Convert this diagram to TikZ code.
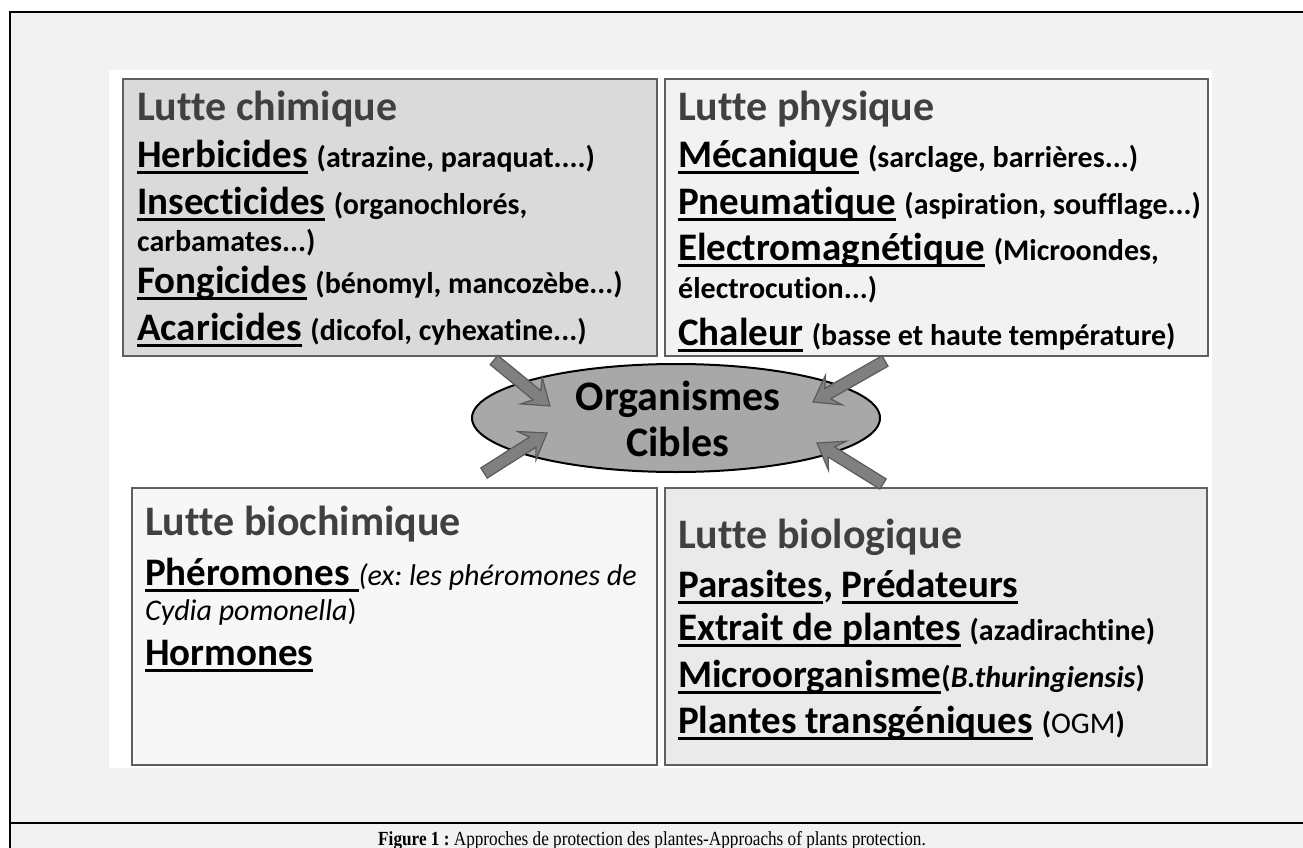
\documentclass[tikz,border=0pt]{standalone}
\usepackage{fontspec}
\setmainfont{Carlito}[Ligatures={NoCommon}]
\newfontfamily\capfont{Liberation Serif}
\usetikzlibrary{calc,shapes.geometric}
\definecolor{pagegrey}{HTML}{F2F2F2}
\definecolor{titgrey}{HTML}{404040}
\definecolor{boxline}{HTML}{5F5F5F}
\definecolor{fillA}{HTML}{DADADA}
\definecolor{fillB}{HTML}{F2F2F2}
\definecolor{fillC}{HTML}{F7F7F7}
\definecolor{fillD}{HTML}{EAEAEA}
\definecolor{ellfill}{HTML}{A8A8A8}
\definecolor{arrfill}{HTML}{808080}
\definecolor{arrline}{HTML}{5A5A5A}
\frenchspacing
\newlength\myulw
\newcommand\myul[1]{\settowidth{\myulw}{#1}\leavevmode\rlap{\rule[-7pt]{\myulw}{2.7pt}}#1}
\newcommand\smalltxt{\fontsize{30}{36}\selectfont}
\newcommand\blockarr[2]{%
  \coordinate (hb) at ($(#2)!24pt!(#1)$);
  \coordinate (hi) at ($(#2)!17pt!(#1)$);
  \draw[barrow] ($(#1)!6pt!90:(#2)$) -- ($(hi)!6pt!-90:(#1)$) -- ($(hb)!17pt!-90:(#1)$) -- (#2)
     -- ($(hb)!17pt!90:(#1)$) -- ($(hi)!6pt!90:(#1)$) -- ($(#1)!6pt!-90:(#2)$) -- cycle;}
\tikzset{
  box/.style={draw=boxline, line width=2.2pt, anchor=north west, inner sep=0, outer sep=0},
  tit/.style={anchor=base west, inner sep=0, text=titgrey, font=\fontsize{42}{50}\selectfont\bfseries},
  ln/.style={anchor=base west, inner sep=0, font=\fontsize{39}{47}\selectfont\bfseries},
  barrow/.style={fill=arrfill, draw=arrline, line width=1.2pt, line join=miter},
}
\begin{document}
\begin{tikzpicture}[x=1pt,y=-1pt]
\useasboundingbox (0,0) rectangle (1303,848);
\fill[white] (0,0) rectangle (1303,848);
\fill[pagegrey] (10,12) rectangle (1303,848);
\draw[line width=2.5pt] (10,848) -- (10,12) -- (1303,12);
\draw[line width=2.5pt] (10,823) -- (1303,823);
\fill[white] (109,70) rectangle (1212,768);

% boxes
\node[box, fill=fillA, minimum width=534pt, minimum height=277pt] (chim) at (123,79) {};
\node[box, fill=fillB, minimum width=543pt, minimum height=277pt] (phys) at (665,79) {};
\node[box, fill=fillC, minimum width=525pt, minimum height=277pt] (bioch) at (132,488) {};
\node[box, fill=fillD, minimum width=542pt, minimum height=277pt] (biol) at (665,488) {};

% chimique
\node[tit] (t1) at (137,121) {Lutte chimique};
\node[ln] (c1) at (137,167) {\myul{Herbicides} {\smalltxt(atrazine, paraquat....)}};
\node[ln] (c2) at (137,214) {\myul{Insecticides} {\smalltxt(organochlorés,}};
\node[ln] (c3) at (137,251) {\smalltxt carbamates...)};
\node[ln] (c4) at (137,293) {\myul{Fongicides} {\smalltxt(bénomyl, mancozèbe...)}};
\node[ln] (c5) at (137,340) {\myul{Acaricides} {\smalltxt(dicofol, cyhexatine...)}};

% physique
\node[tit] (t2) at (678,121) {Lutte physique};
\node[ln] (p1) at (678,167) {\myul{Mécanique} {\smalltxt(sarclage, barrières...)}};
\node[ln] (p2) at (678,214) {\myul{Pneumatique} {\smalltxt(aspiration, soufflage...)}};
\node[ln] (p3) at (678,260) {\myul{Electromagnétique} {\smalltxt(Microondes,}};
\node[ln] (p4) at (678,298) {\smalltxt électrocution...)};
\node[ln] (p5) at (678,345) {\myul{Chaleur} {\smalltxt(basse et haute température)}};

% biochimique
\node[tit] (t3) at (145,535) {Lutte biochimique};
\node[ln] (b1) at (145,585) {\myul{Phéromones\ }{\smalltxt\mdseries\itshape (ex: les phéromones de}};
\node[ln] (b2) at (145,620) {\smalltxt\mdseries\itshape Cydia pomonella\upshape)};
\node[ln] (b3) at (145,665) {\myul{Hormones}};

% biologique
\node[tit] (t4) at (678,548) {Lutte biologique};
\node[ln] (g1) at (678,597) {\myul{Parasites}, \myul{Prédateurs}};
\node[ln] (g2) at (678,640) {\myul{Extrait de plantes} {\smalltxt(azadirachtine)}};
\node[ln] (g3) at (678,687) {\myul{Microorganisme}{\smalltxt(\textit{B.thuringiensis})}};
\node[ln] (g4) at (678,733) {\myul{Plantes transgéniques} {\smalltxt(\mdseries OGM\bfseries)}};

% ellipse
\node[ellipse, draw=black, line width=2pt, fill=ellfill, minimum width=408pt, minimum height=108pt, inner sep=0] (org) at (676,418) {};
\node[anchor=base, inner sep=0, font=\fontsize{42}{50}\selectfont\bfseries] (o1) at (678,410) {Organismes};
\node[anchor=base, inner sep=0, font=\fontsize{42}{50}\selectfont\bfseries] (o2) at (678,456) {Cibles};

% arrows
\coordinate (a1s) at (494,360);
\coordinate (a1e) at (550,406);
\coordinate (a2s) at (484,473);
\coordinate (a2e) at (547,433);
\coordinate (a3s) at (885,361);
\coordinate (a3e) at (813,402);
\coordinate (a4s) at (883,484);
\coordinate (a4e) at (817,443);
\blockarr{a1s}{a1e}
\blockarr{a2s}{a2e}
\blockarr{a3s}{a3e}
\blockarr{a4s}{a4e}

% caption
\node[anchor=base, inner sep=0, font=\capfont\fontsize{20}{24}\selectfont] (cap) at (652,845) {\scalebox{0.86}[1]{\textbf{Figure 1 :} Approches de protection des plantes-Approachs of plants protection.}};
\end{tikzpicture}
\end{document}
